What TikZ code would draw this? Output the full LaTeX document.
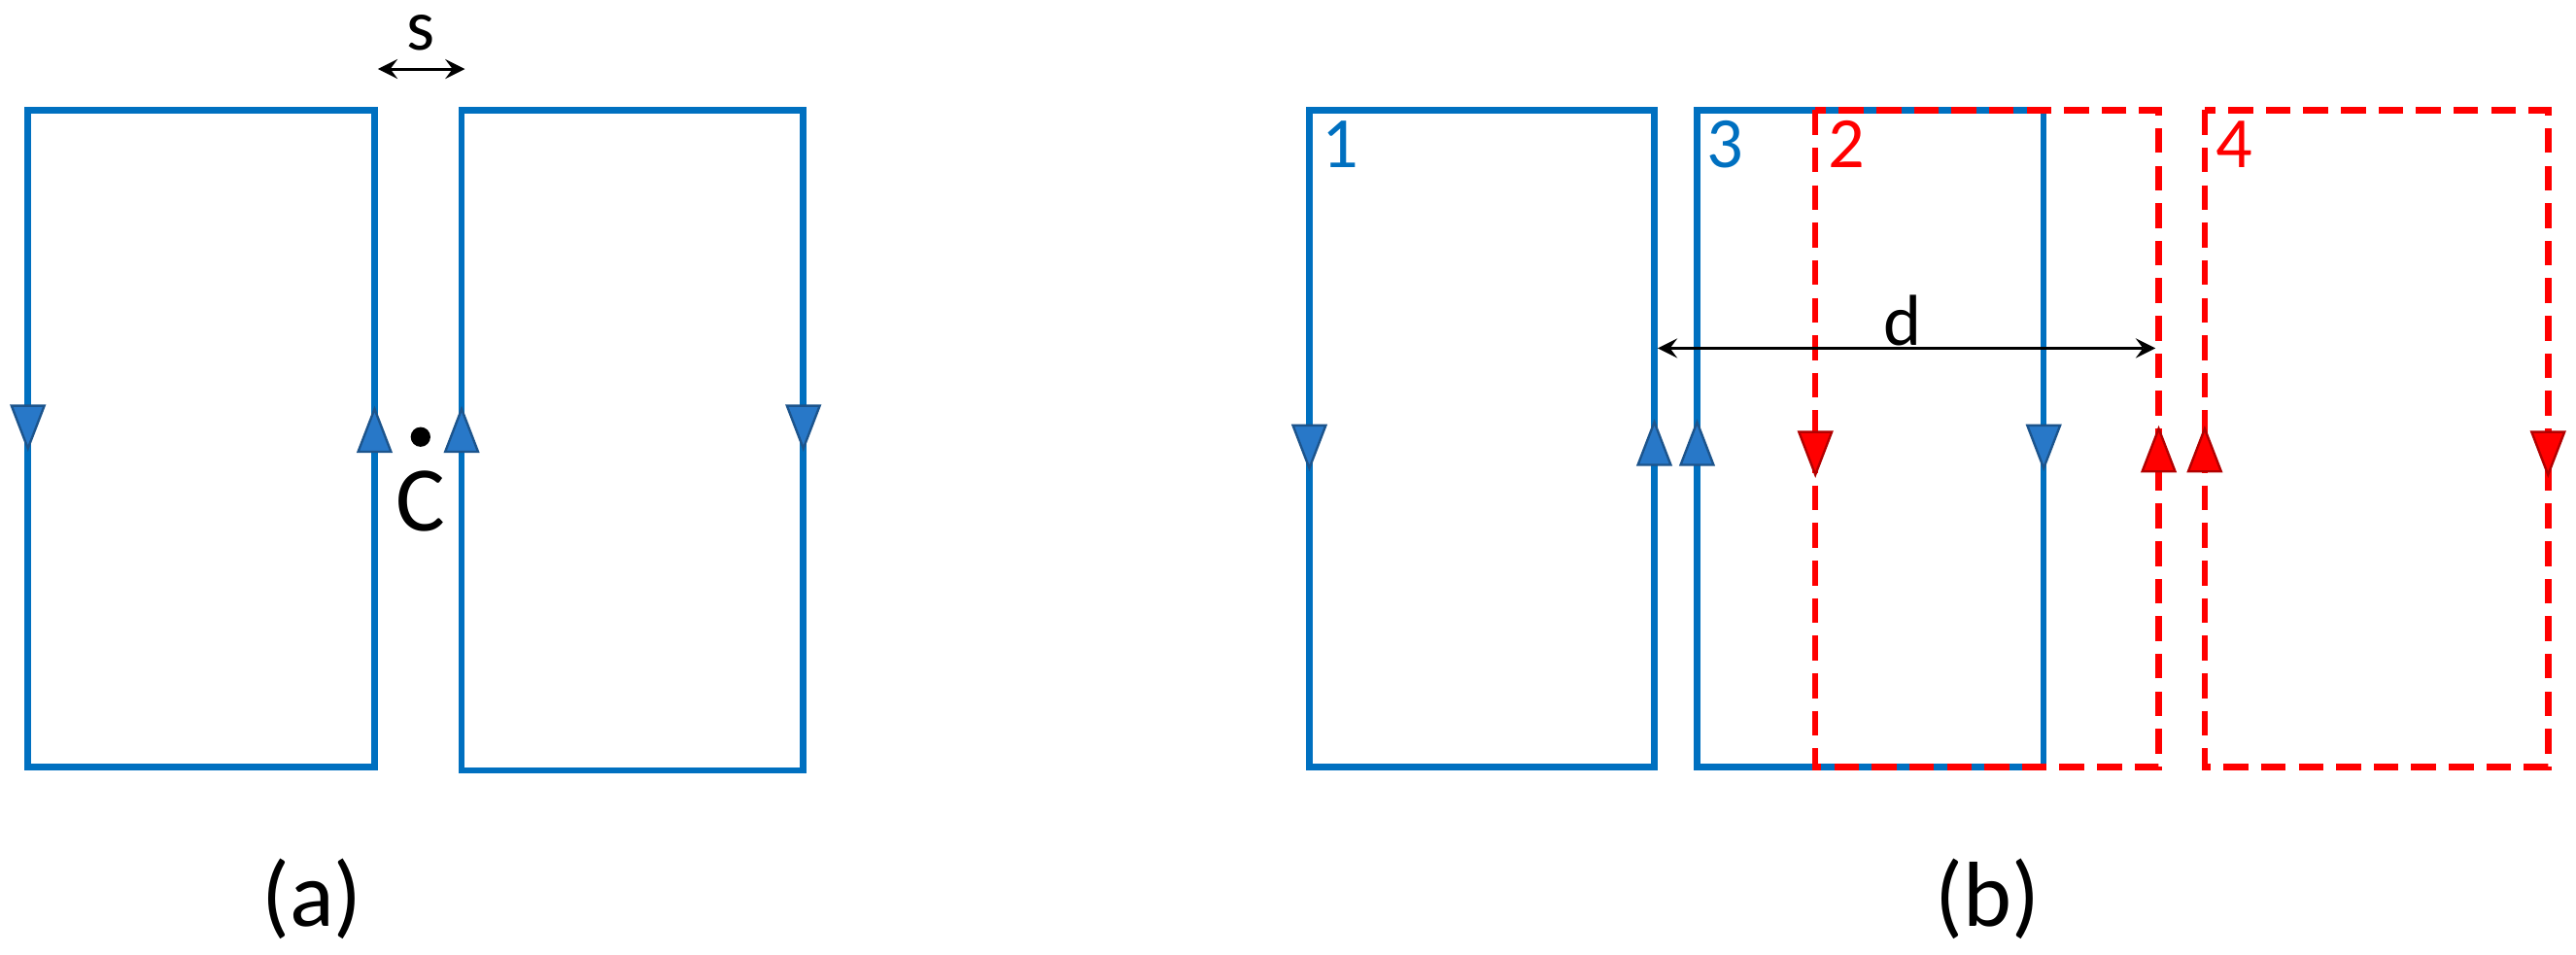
\documentclass[tikz,border=0pt]{standalone}
\usepackage{fontspec}
\setmainfont{Carlito}
\definecolor{bl}{RGB}{0,112,192}
\definecolor{blf}{RGB}{40,120,200}
\definecolor{rd}{RGB}{255,0,0}
\newcommand\tridn[3]{\filldraw[fill=#3,draw=#3!70!black,line width=0.4pt] (#1-10,#2-13)--(#1+10,#2-13)--(#1,#2+13)--cycle;}
\newcommand\triup[3]{\filldraw[fill=#3,draw=#3!70!black,line width=0.4pt] (#1-10,#2+13)--(#1+10,#2+13)--(#1,#2-13)--cycle;}
\begin{document}
\begin{tikzpicture}[x=0.01cm,y=-0.01cm,
  bline/.style={draw=bl,line width=1.1pt},
  rline/.style={draw=rd,line width=1.1pt,dash pattern=on 4.3pt off 2.2pt},
  lab/.style={font=\fontsize{16}{19}\selectfont},
  sm/.style={font=\fontsize{12.5}{15}\selectfont},
  dim/.style={<->,>=stealth,line width=0.5pt}]
\useasboundingbox (0,0) rectangle (1568,581);
% panel a
\draw[bline] (17,67) rectangle (228,467);
\draw[bline] (281,67) rectangle (489,469);
\tridn{17}{260}{blf}
\triup{228}{262}{blf}
\triup{281}{262}{blf}
\tridn{489}{260}{blf}
\fill (256,266) circle (6);
\node[lab] (C) at (256,305) {C};
\draw[dim] (230,42) -- (283,42);
\node[sm] (s) at (256,20) {s};
\node[lab] (a) at (190,547) {(a)};
% panel b
\draw[bline] (797,67) rectangle (1007,467);
\draw[bline] (1033,67) rectangle (1244,467);
\draw[rline] (1105,67) rectangle (1314,467);
\draw[rline] (1342,67) rectangle (1551,467);
\tridn{797}{272}{blf}
\triup{1007}{270}{blf}
\triup{1033}{270}{blf}
\tridn{1244}{272}{blf}
\tridn{1105}{276}{rd}
\triup{1314}{274}{rd}
\triup{1342}{274}{rd}
\tridn{1551}{276}{rd}
\node[sm,text=bl] (n1) at (816,88) {1};
\node[sm,text=bl] (n3) at (1050,88) {3};
\node[sm,text=rd] (n2) at (1124,88) {2};
\node[sm,text=rd] (n4) at (1360,88) {4};
\draw[dim] (1009,212) -- (1312,212);
\node[sm] (d) at (1158,195) {d};
\node[lab] (b) at (1210,547) {(b)};
\end{tikzpicture}
\end{document}
